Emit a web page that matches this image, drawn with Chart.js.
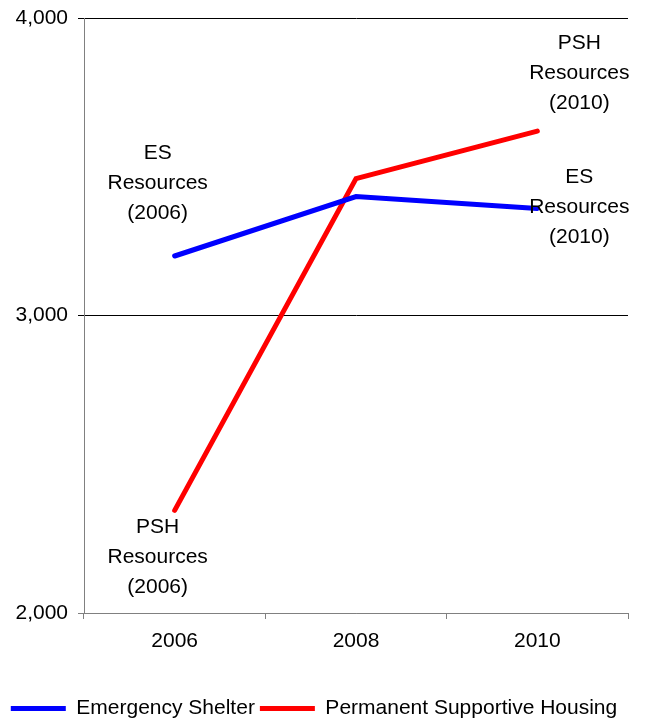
<!DOCTYPE html>
<html>
<head>
<meta charset="utf-8">
<script src="https://cdn.jsdelivr.net/npm/chart.js@4"></script>
<style>
	html, body {margin: 0; padding: 0; background: #fff;}
	#wrap {width: 659px; height: 721px;}
</style>
</head>
<body>
<div id="wrap"><canvas id="chart"></canvas></div>
<script>
'use strict'
// данные графика
const years = ["2006", "2008", "2010"];
const esValues = [3200, 3400, 3360];
const pshValues = [2345, 3460, 3620];
const seriesNames = ["Emergency Shelter", "Permanent Supportive Housing"];
const yTicks = [2000, 3000, 4000];
// подписи у точек: серия, индекс точки, строки
const noteSeries = [0, 1, 1, 0];
const notePoints = [0, 0, 2, 2];
const noteLines = [
	["ES", "Resources", "(2006)"],
	["PSH", "Resources", "(2006)"],
	["PSH", "Resources", "(2010)"],
	["ES", "Resources", "(2010)"]
];

const FONT = "'Liberation Sans', Arial, sans-serif";

// плагин для подписей, привязанных к точкам
const notesPlugin = {
	id: "notes",
	afterDatasetsDraw(chart, args, opts) {
		let ctx = chart.ctx;
		ctx.save();
		ctx.font = `${opts.size}px ${FONT}`;
		ctx.fillStyle = "#000";
		ctx.textAlign = "center";
		ctx.textBaseline = "middle";
		noteLines.forEach((lines, i) => {
			let el = chart.getDatasetMeta(noteSeries[i]).data[notePoints[i]];
			let off = opts.offsets[i];
			lines.forEach((t, j) => {
				ctx.fillText(t, el.x + off[0], el.y + off[1] + j * opts.lineGap);
			});
		});
		ctx.restore();
	}
};

let ctx = document.getElementById("chart").getContext("2d");
let chart = new Chart(ctx, {
	type: "line",
	data: {
		labels: years,
		datasets: [{
			label: seriesNames[0],
			data: esValues,
			borderColor: "#0000ff",
			backgroundColor: "#0000ff",
			borderWidth: 5,
			borderCapStyle: "round",
			pointRadius: 0,
			fill: false,
			tension: 0
		}, {
			label: seriesNames[1],
			data: pshValues,
			borderColor: "#ff0000",
			backgroundColor: "#ff0000",
			borderWidth: 5,
			borderCapStyle: "round",
			pointRadius: 0,
			fill: false,
			tension: 0
		}]
	},
	plugins: [notesPlugin],
	options: {
		responsive: true,
		maintainAspectRatio: false,
		animation: false,
		layout: {padding: {left: 0, right: 31, top: 18, bottom: -8}},
		scales: {
			x: {
				offset: true,
				afterFit(scale) {
					scale.height = 80;
				},
				grid: {offset: true, drawOnChartArea: false, drawTicks: true, tickLength: 6, color: "#808080"},
				border: {color: "#808080", width: 1},
				ticks: {color: "#000", padding: 10, font: {family: FONT, size: 21}}
			},
			y: {
				min: 2000,
				max: 4000,
				afterBuildTicks(scale) {
					scale.ticks = yTicks.map(v => ({value: v}));
				},
				afterFit(scale) {
					scale.width = 84;
					scale.paddingTop = 0;
					scale.paddingBottom = 0;
				},
				grid: {
					color: c => c.tick && c.tick.value === 2000 ? "#808080" : "#000",
					tickLength: 6
				},
				border: {color: "#808080", width: 1},
				ticks: {
					color: "#000",
					padding: 10,
					font: {family: FONT, size: 21},
					callback: v => v.toLocaleString("en-US")
				}
			}
		},
		plugins: {
			legend: {
				position: "bottom",
				labels: {
					color: "#000",
					font: {family: FONT, size: 21},
					usePointStyle: true,
					pointStyle: "line",
					pointStyleWidth: 55,
					padding: 5
				}
			},
			tooltip: {enabled: false},
			notes: {
				size: 21,
				lineGap: 30,
				offsets: [[-17, -103], [-17, 17], [42, -88], [42, -31]]
			}
		}
	}
});
</script>
</body>
</html>
